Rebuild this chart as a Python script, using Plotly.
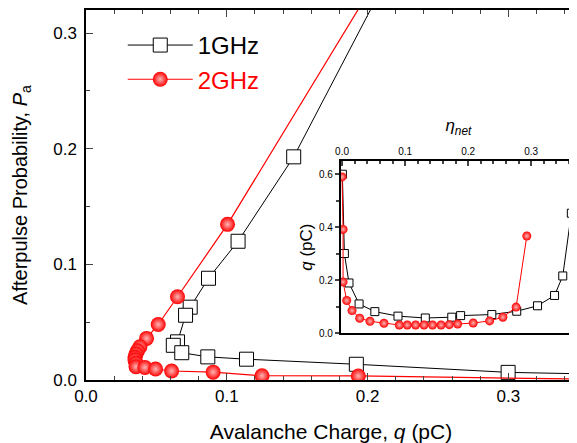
import plotly.graph_objects as go

# ---------------- main panel data (q in pC, Pa) ----------------
# first/last entries are estimated points just outside the visible range
q_1ghz = [0.25, 0.1475, 0.108, 0.087, 0.074, 0.0707, 0.065, 0.062, 0.068,
          0.0865, 0.114, 0.192, 0.2998, 0.40]
pa_1ghz = [0.432, 0.193, 0.120, 0.088, 0.063, 0.056, 0.033, 0.030, 0.0236,
           0.020, 0.018, 0.0136, 0.0066, 0.0042]

q_2ghz = [0.25, 0.1005, 0.065, 0.0513, 0.043, 0.0383, 0.0366, 0.0355, 0.0348,
          0.0348, 0.0355, 0.0355, 0.0418, 0.0494, 0.0608, 0.0903, 0.125,
          0.1934, 0.40]
pa_2ghz = [0.434, 0.1346, 0.072, 0.048, 0.036, 0.0288, 0.0253, 0.0225, 0.0196,
           0.0173, 0.0144, 0.0115, 0.0109, 0.0095, 0.0078, 0.0068, 0.0037,
           0.0035, 0.0]

# ---------------- inset data (eta_net, q in pC) ----------------
eta_1ghz = [0.0005, 0.0037, 0.011, 0.027, 0.052, 0.0887, 0.132, 0.174, 0.188,
            0.2375, 0.277, 0.310, 0.337, 0.350, 0.3636]
qin_1ghz = [0.600, 0.301, 0.190, 0.111, 0.082, 0.065, 0.058, 0.061, 0.067,
            0.071, 0.0835, 0.104, 0.143, 0.2165, 0.453]

eta_2ghz = [0.0, 0.0016, 0.0016, 0.0074, 0.0158, 0.028, 0.0443, 0.0665, 0.0908,
            0.1034, 0.1166, 0.130, 0.1435, 0.157, 0.170, 0.1833, 0.208, 0.234,
            0.255, 0.276, 0.293]
qin_2ghz = [0.59, 0.392, 0.194, 0.124, 0.086, 0.057, 0.0456, 0.038, 0.0316,
            0.0316, 0.0316, 0.0316, 0.0316, 0.0316, 0.033, 0.0354, 0.039, 0.047,
            0.061, 0.099, 0.367]

series_names = ["1GHz", "2GHz"]

FONT = "Arial, Liberation Sans, Helvetica, sans-serif"
RED = "#ff0000"

fig = go.Figure()

fig.add_trace(go.Scatter(
    x=q_1ghz, y=pa_1ghz, mode="lines+markers", name=series_names[0],
    line=dict(color="black", width=1),
    marker=dict(symbol="square", size=14, color="white",
                line=dict(color="black", width=1)),
))
fig.add_trace(go.Scatter(
    x=q_2ghz, y=pa_2ghz, mode="lines+markers",
    name="<span style='color:#ff0000'>" + series_names[1] + "</span>",
    line=dict(color=RED, width=1.2),
    marker=dict(symbol="circle", size=15, color=RED,
                gradient=dict(type="radial", color="#ffb4b4"),
                line=dict(width=0)),
))

fig.add_trace(go.Scatter(
    x=eta_1ghz, y=qin_1ghz, mode="lines+markers", xaxis="x2", yaxis="y2",
    showlegend=False, line=dict(color="black", width=1),
    marker=dict(symbol="square", size=8, color="white",
                line=dict(color="black", width=1)),
))
fig.add_trace(go.Scatter(
    x=eta_2ghz, y=qin_2ghz, mode="lines+markers", xaxis="x2", yaxis="y2",
    showlegend=False, line=dict(color=RED, width=1),
    marker=dict(symbol="circle", size=9, color=RED,
                gradient=dict(type="radial", color="#ffb4b4"),
                line=dict(width=0)),
))

# the page body has an 8px default margin, so the figure is drawn 8px smaller
fig.update_layout(
    width=569, height=435,
    margin=dict(l=78, r=1, t=2, b=63),
    plot_bgcolor="white", paper_bgcolor="white",
    font=dict(family=FONT, color="black"),
    legend=dict(x=0.075, y=0.965, xanchor="left", yanchor="top",
                font=dict(size=24), bgcolor="rgba(0,0,0,0)",
                itemwidth=65, tracegroupgap=0),
    xaxis=dict(
        domain=[0, 1], range=[0, 0.348], dtick=0.1, tickformat=".1f",
        ticks="inside", ticklen=7, tickwidth=1.2, automargin=False,
        minor=dict(dtick=0.02, ticks="inside", ticklen=4, tickwidth=1),
        showline=True, linewidth=1.5, linecolor="black", mirror="ticks",
        showgrid=False, zeroline=False, tickfont=dict(size=17),
        title=dict(text="Avalanche Charge, <i>q</i> (pC)",
                   font=dict(size=21), standoff=20),
    ),
    yaxis=dict(
        domain=[0, 1], range=[0, 0.32], dtick=0.1, tickformat=".1f",
        ticks="inside", ticklen=7, tickwidth=1.2, automargin=False,
        ticklabelstandoff=4,
        minor=dict(dtick=0.05, ticks="inside", ticklen=4, tickwidth=1),
        showline=True, linewidth=1.5, linecolor="black", mirror="ticks",
        showgrid=False, zeroline=False, tickfont=dict(size=17),
        title=dict(text="Afterpulse Probability, <i>P</i><sub>a</sub>",
                   font=dict(size=20), standoff=20),
    ),
    xaxis2=dict(
        anchor="y2", domain=[0.52, 1], range=[-0.002, 0.371], side="top",
        dtick=0.1, tickformat=".1f", ticks="inside", ticklen=5, tickwidth=1.5,
        minor=dict(dtick=0.02, ticks="inside", ticklen=3, tickwidth=1.5),
        showline=True, linewidth=2, linecolor="black", mirror=True,
        showgrid=False, zeroline=False, tickfont=dict(size=10),
        automargin=False,
        title=dict(text="<i>η<sub>net</sub></i>", font=dict(size=17),
                   standoff=10),
    ),
    yaxis2=dict(
        anchor="x2", domain=[0.126, 0.592], range=[0, 0.65], dtick=0.2,
        tickformat=".1f", ticks="outside", ticklen=4, tickwidth=1.5,
        minor=dict(dtick=0.1, ticks="outside", ticklen=3, tickwidth=1.5),
        showline=True, linewidth=2, linecolor="black", mirror=True,
        showgrid=False, zeroline=False, tickfont=dict(size=10),
        automargin=False,
        title=dict(text="<i>q</i> (pC)", font=dict(size=17), standoff=2),
    ),
)

fig.write_html("out.html")
